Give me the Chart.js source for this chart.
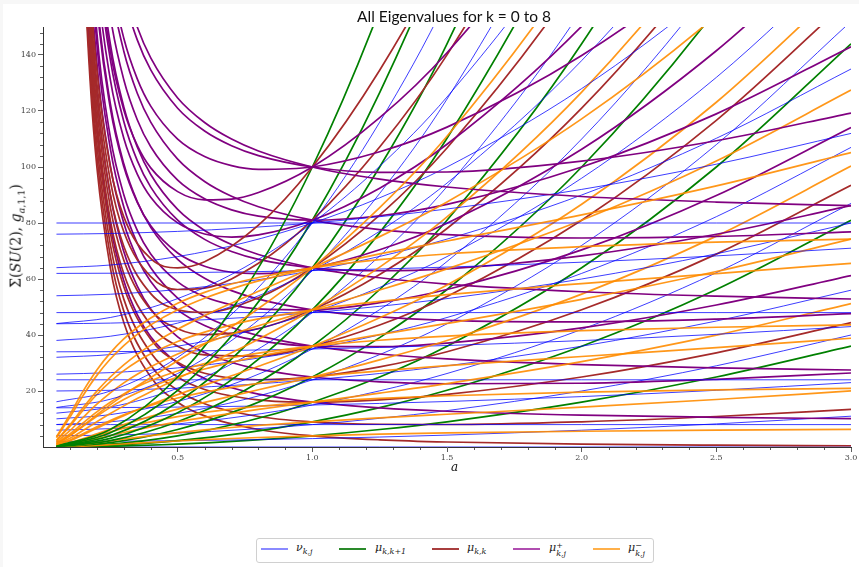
<!DOCTYPE html>
<html>
<head>
<meta charset="utf-8">
<script src="https://cdn.jsdelivr.net/npm/chart.js@4/dist/chart.umd.min.js"></script>
<style>
    html, body { margin: 0; padding: 0; background: #f7f7f7; }
    #wrap { position: relative; width: 859px; height: 567px; overflow: hidden; }
    #paper { position: absolute; left: 3px; top: 4px; right: 0; bottom: 0; background: #fff; }
    #chart { position: absolute; left: 0; top: 0; }
    .txt { position: absolute; color: #111; white-space: nowrap; }
    #title { left: 454px; top: 7px; transform: translateX(-50%); font: 15.5px Lato, "DejaVu Sans", sans-serif; }
    #xlabel { left: 451px; top: 460px; font: italic 12px "DejaVu Serif", serif; }
    #ylabel { left: 17px; top: 236px; transform: translate(-50%, -50%) rotate(-90deg); font: 14px "DejaVu Serif", serif; }
    #ylabel sub { font-size: 9.5px; }
    .lab sub { font-size: 8px; }
    #legend { position: absolute; left: 256px; top: 538px; width: 396px; height: 23px; border: 1px solid #d0d0d0; border-radius: 3px; background: #fff; }
    .sw { position: absolute; top: 548px; width: 27px; height: 1.6px; }
    .lab { position: absolute; top: 541px; font: italic 11px "DejaVu Serif", serif; color: #222; }
    .ss { display: inline-block; vertical-align: -5px; font-size: 8px; line-height: 8px; }
    .ss span { display: block; }
</style>
</head>
<body>
<div id="wrap">
    <div id="paper"></div>
    <canvas id="chart" width="859" height="567"></canvas>
    <div class="txt" id="title">All Eigenvalues for k = 0 to 8</div>
    <div class="txt" id="xlabel">a</div>
    <div class="txt" id="ylabel">Σ(<i>SU</i>(2), <i>g</i><sub><i>a</i>,1,1</sub>)</div>
    <div id="legend"></div>
    <div class="sw" style="left:261px;background:#8a8aff"></div>
    <div class="lab" style="left:296px">ν<sub>k,j</sub></div>
    <div class="sw" style="left:339px;background:#2a8a2a"></div>
    <div class="lab" style="left:375px">μ<sub>k,k+1</sub></div>
    <div class="sw" style="left:432px;background:#a83e3e"></div>
    <div class="lab" style="left:467px">μ<sub>k,k</sub></div>
    <div class="sw" style="left:513px;background:#b04db0"></div>
    <div class="lab" style="left:549px">μ<span class="ss"><span>+</span><span>k,j</span></span></div>
    <div class="sw" style="left:593px;background:#ffb04a"></div>
    <div class="lab" style="left:628px">μ<span class="ss"><span>−</span><span>k,j</span></span></div>
</div>
<script>
// sample points along a for each family
const aNu = [0.05, 0.25, 0.5, 0.75, 1, 1.25, 1.5, 2, 2.5, 3];
const aRed = [0.1, 0.125, 0.15, 0.175, 0.2, 0.25, 0.3, 0.4, 0.5, 0.6, 0.8, 1, 1.25, 1.5, 2, 2.5, 3];
const aPM = [0.05, 0.1, 0.15, 0.2, 0.25, 0.3, 0.35, 0.4, 0.5, 0.6, 0.7, 0.8, 1, 1.25, 1.5, 2, 2.5, 3];

// tick labels
const xMajorTicks = [0.5, 1, 1.5, 2, 2.5, 3];
const yMajorTicks = [20, 40, 60, 80, 100, 120, 140];

// which k each row belongs to
const nuK = [0, 1, 2, 2, 3, 3, 4, 4, 4, 5, 5, 5, 6, 6, 6, 6, 7, 7, 7, 7, 8, 8, 8, 8, 8];
const pmK = [2, 3, 4, 4, 5, 5, 6, 6, 6, 7, 7, 7, 8, 8, 8, 8];

// nu_{k,j}  (on aNu)
const nuSeries = [
    [0, 0, 0, 0, 0, 0, 0, 0, 0, 0],
    [2.00, 2.06, 2.25, 2.56, 3, 3.56, 4.25, 6, 8.25, 11],
    [8, 8, 8, 8, 8, 8, 8, 8, 8, 8],
    [4.01, 4.25, 5, 6.25, 8, 10.25, 13, 20, 29, 40],
    [14.00, 14.06, 14.25, 14.56, 15, 15.56, 16.25, 18, 20.25, 23],
    [6.02, 6.56, 8.25, 11.06, 15, 20.06, 26.25, 42, 62.25, 87],
    [24, 24, 24, 24, 24, 24, 24, 24, 24, 24],
    [20.01, 20.25, 21, 22.25, 24, 26.25, 29, 36, 45, 56],
    [8.04, 9, 12, 17, 24, 33, 44, 72, 108, 152],
    [34.00, 34.06, 34.25, 34.56, 35, 35.56, 36.25, 38, 40.25, 43],
    [26.02, 26.56, 28.25, 31.06, 35, 40.06, 46.25, 62, 82.25, 107],
    [10.06, 11.56, 16.25, 24.06, 35, 49.06, 66.25, 110, 166.25, 235],
    [48, 48, 48, 48, 48, 48, 48, 48, 48, 48],
    [44.01, 44.25, 45, 46.25, 48, 50.25, 53, 60, 69, 80],
    [32.04, 33, 36, 41, 48, 57, 68, 96, 132, 176],
    [12.09, 14.25, 21, 32.25, 48, 68.25, 93, 156, 237, 336],
    [62.00, 62.06, 62.25, 62.56, 63, 63.56, 64.25, 66, 68.25, 71],
    [54.02, 54.56, 56.25, 59.06, 63, 68.06, 74.25, 90, 110.25, 135],
    [38.06, 39.56, 44.25, 52.06, 63, 77.06, 94.25, 138, 194.25, 263],
    [14.12, 17.06, 26.25, 41.56, 63, 90.56, 124.25, 210, 320.25, 455],
    [80, 80, 80, 80, 80, 80, 80, 80, 80, 80],
    [76.01, 76.25, 77, 78.25, 80, 82.25, 85, 92, 101, 112],
    [64.04, 65, 68, 73, 80, 89, 100, 128, 164, 208],
    [44.09, 46.25, 53, 64.25, 80, 100.25, 125, 188, 269, 368],
    [16.16, 20, 32, 52, 80, 116, 160, 272, 416, 592]
];

// mu_{k,k+1}, k = 0..8  (on aNu)
const muNextSeries = [
    [0.01, 0.25, 1, 2.25, 4, 6.25, 9, 16, 25, 36],
    [0.02, 0.56, 2.25, 5.06, 9, 14.06, 20.25, 36, 56.25, 81],
    [0.04, 1, 4, 9, 16, 25, 36, 64, 100, 144],
    [0.06, 1.56, 6.25, 14.06, 25, 39.06, 56.25, 100, 156.25, 225],
    [0.09, 2.25, 9, 20.25, 36, 56.25, 81, 144, 225, 324],
    [0.12, 3.06, 12.25, 27.56, 49, 76.56, 110.25, 196, 306.25, 441],
    [0.16, 4, 16, 36, 64, 100, 144, 256, 400, 576],
    [0.2, 5.06, 20.25, 45.56, 81, 126.56, 182.25, 324, 506.25, 729],
    [0.25, 6.25, 25, 56.25, 100, 156.25, 225, 400, 625, 900]
];

// mu_{k,k}, k = 0..8  (on aRed)
const muSameSeries = [
    [400, 256, 177.78, 130.61, 100, 64, 44.44, 25, 16, 11.11, 6.25, 4, 2.56, 1.78, 1, 0.64, 0.44],
    [404.01, 260.02, 181.80, 134.64, 104.04, 68.06, 48.53, 29.16, 20.25, 15.47, 10.89, 9, 8.12, 8.03, 9, 10.89, 13.44],
    [408.04, 264.06, 185.87, 138.74, 108.16, 72.25, 52.81, 33.64, 25, 20.55, 16.81, 16, 16.81, 18.78, 25, 33.64, 44.44],
    [412.09, 268.14, 189.98, 142.89, 112.36, 76.56, 57.25, 38.44, 30.25, 26.35, 24.01, 25, 28.62, 34.03, 49, 68.89, 93.44],
    [416.16, 272.25, 194.14, 147.10, 116.64, 81, 61.88, 43.56, 36, 32.87, 32.49, 36, 43.56, 53.78, 81, 116.64, 160.44],
    [420.25, 276.39, 198.34, 151.38, 121, 85.56, 66.69, 49, 42.25, 40.11, 42.25, 49, 61.62, 78.03, 121, 176.89, 245.44],
    [424.36, 280.56, 202.59, 155.72, 125.44, 90.25, 71.68, 54.76, 49, 48.07, 53.29, 64, 82.81, 106.78, 169, 249.64, 348.44],
    [428.49, 284.77, 206.88, 160.11, 129.96, 95.06, 76.85, 60.84, 56.25, 56.75, 65.61, 81, 107.12, 140.03, 225, 334.89, 469.44],
    [432.64, 289, 211.22, 164.57, 134.56, 100, 82.2, 67.24, 64, 66.15, 79.21, 100, 134.56, 177.78, 289, 432.64, 608.44]
];

// mu^+_{k,j}  (on aPM)
const muPlusSeries = [
    [1616, 415.9, 193.45, 115.45, 79.19, 59.37, 47.30, 39.37, 29.86, 24.50, 21.14, 18.86, 16, 13.98, 12.76, 11.37, 10.61, 10.12],
    [1628, 427.6, 204.86, 126.52, 89.93, 69.78, 57.43, 49.25, 39.34, 33.72, 30.19, 27.83, 25, 23.28, 22.59, 22.77, 24.18, 26.43],
    [1648, 446.7, 223.2, 144, 106.6, 85.73, 72.73, 64, 53.17, 46.80, 42.66, 39.77, 36, 33.22, 31.48, 29.42, 28.25, 27.50],
    [1640, 439.2, 216.09, 137.36, 100.42, 79.98, 67.41, 59.07, 49, 43.40, 40.04, 37.96, 36, 35.83, 37.12, 42.52, 50.70, 61.22],
    [1667, 465.5, 241.02, 160.88, 122.67, 101.13, 87.61, 78.45, 66.99, 60.23, 55.84, 52.81, 49, 46.47, 45.22, 44.68, 45.66, 47.60],
    [1652, 450.7, 227.16, 148.03, 110.75, 90.09, 77.36, 68.96, 58.97, 53.66, 50.77, 49.32, 49, 51.55, 56.25, 70.39, 89.83, 114.12],
    [1695, 491.3, 265.09, 183.44, 144, 121.48, 107.15, 97.33, 84.84, 77.31, 72.29, 68.73, 64, 60.44, 58.17, 55.45, 53.87, 52.85],
    [1687, 484.1, 258.44, 177.32, 138.35, 116.23, 102.28, 92.81, 81, 74.15, 69.84, 67.03, 64, 62.94, 63.64, 68.26, 75.97, 86.19],
    [1664, 462.1, 238.1, 158.56, 121, 100.16, 87.37, 79.0, 69.3, 64.54, 62.41, 61.91, 64, 70.43, 79.92, 106.31, 141.52, 185.07],
    [1722, 516.6, 288.49, 205.34, 164.74, 141.35, 126.36, 116.02, 102.81, 94.82, 89.52, 85.80, 81, 77.66, 75.86, 74.64, 75.19, 76.84],
    [1706, 502.4, 275.52, 193.44, 153.76, 131.16, 116.88, 107.21, 95.3, 88.62, 84.70, 82.46, 81, 82.60, 86.66, 100, 118.98, 142.97],
    [1675, 473.4, 248.93, 169, 131.19, 110.25, 97.48, 89.23, 80.03, 76.07, 74.99, 75.76, 81, 92.45, 108.11, 150.26, 205.72, 274.03],
    [1756, 548.3, 317.63, 232.47, 190.38, 165.86, 149.98, 138.94, 124.66, 115.88, 109.96, 105.70, 100, 95.65, 92.85, 89.46, 87.48, 86.19],
    [1749, 541.4, 311.36, 226.74, 185.09, 160.93, 145.40, 134.66, 121, 112.85, 107.60, 104.06, 100, 98.10, 98.21, 102.1, 109.37, 119.28],
    [1726, 520.4, 292.33, 209.32, 169, 145.99, 131.49, 121.73, 109.94, 103.71, 100.48, 99.13, 100, 105.43, 114.25, 139.82, 174.57, 217.84],
    [1687, 484.7, 259.67, 179.37, 141.37, 120.39, 107.72, 99.68, 91.2, 88.28, 88.52, 90.87, 100, 117.60, 140.82, 202.22, 282.45, 381.01]
];

// mu^-_{k,j}  (on aPM)
const muMinusSeries = [
    [0.04, 0.15, 0.33, 0.55, 0.81, 1.08, 1.35, 1.63, 2.14, 2.61, 3.03, 3.39, 4, 4.58, 5.02, 5.63, 6.03, 6.32],
    [0.12, 0.46, 0.96, 1.56, 2.20, 2.85, 3.47, 4.07, 5.16, 6.12, 6.96, 7.70, 9, 10.40, 11.69, 14.23, 16.96, 20.02],
    [0.35, 1.29, 2.58, 4, 5.40, 6.72, 7.92, 9, 10.83, 12.31, 13.50, 14.48, 16, 17.34, 18.30, 19.58, 20.39, 20.95],
    [0.24, 0.91, 1.87, 2.96, 4.08, 5.18, 6.23, 7.21, 9, 10.59, 12.04, 13.41, 16, 19.23, 22.66, 30.48, 39.94, 51.23],
    [0.69, 2.49, 4.80, 7.20, 9.46, 11.49, 13.29, 14.87, 17.51, 19.60, 21.30, 22.72, 25, 27.21, 29.06, 32.32, 35.48, 38.84],
    [0.41, 1.51, 3.02, 4.69, 6.37, 7.98, 9.50, 10.92, 13.53, 15.93, 18.21, 20.45, 25, 31.14, 38.03, 54.61, 75.31, 100.32],
    [1.36, 4.69, 8.69, 12.56, 16, 18.97, 21.50, 23.67, 27.16, 29.80, 31.87, 33.52, 36, 38.12, 39.61, 41.55, 42.77, 43.60],
    [1.15, 4.01, 7.52, 11.00, 14.15, 16.93, 19.35, 21.47, 25, 27.85, 30.24, 32.34, 36, 40.12, 44.14, 52.74, 62.67, 74.26],
    [0.62, 2.24, 4.40, 6.72, 9, 11.16, 13.20, 15.12, 18.70, 22.09, 25.43, 28.82, 36, 46.13, 57.86, 86.69, 123.12, 167.38],
    [2.23, 7.44, 13.33, 18.74, 23.38, 27.27, 30.54, 33.30, 37.69, 41.01, 43.62, 45.73, 49, 52.02, 54.42, 58.36, 61.95, 65.60],
    [1.71, 5.82, 10.66, 15.28, 19.36, 22.90, 25.98, 28.67, 33.20, 36.97, 40.28, 43.31, 49, 56.08, 63.62, 81, 102.16, 127.47],
    [0.87, 3.09, 5.97, 9, 11.93, 14.69, 17.30, 19.77, 24.47, 29.04, 33.67, 38.49, 49, 64.24, 82.17, 126.74, 183.42, 252.41],
    [3.64, 11.67, 20.15, 27.53, 33.62, 38.59, 42.67, 46.06, 51.34, 55.23, 58.20, 60.55, 64, 66.91, 68.93, 71.54, 73.16, 74.26],
    [3.30, 10.68, 18.60, 25.58, 31.41, 36.23, 40.24, 43.62, 49, 53.14, 56.48, 59.31, 64, 68.96, 73.57, 82.90, 93.27, 105.16],
    [2.38, 7.91, 14.17, 19.96, 25, 29.33, 33.09, 36.39, 42.06, 46.92, 51.36, 55.60, 64, 75.13, 87.53, 117.18, 154.07, 198.6],
    [1.15, 4.06, 7.73, 11.51, 15.13, 18.54, 21.76, 24.84, 30.80, 36.75, 42.92, 49.46, 64, 85.46, 110.96, 174.78, 256.19, 355.43]
];

const NU_COLOR = 'rgba(0, 0, 255, 0.85)';
const NEXT_COLOR = '#008000';
const SAME_COLOR = '#a52a2a';
const PLUS_COLOR = '#800080';
const MINUS_COLOR = 'rgba(255, 140, 0, 0.9)';

function curve(grid, row, color, width) {
    return {
        data: grid.map((a, i) => ({ x: a, y: row[i] })),
        borderColor: color,
        borderWidth: width,
        pointRadius: 0,
        fill: false,
        cubicInterpolationMode: 'monotone'
    };
}

// plot k by k, each family in turn
const ordered = [];
for (let k = 0; k <= 8; k++) {
    nuSeries.forEach((row, i) => { if (nuK[i] === k) ordered.push(curve(aNu, row, NU_COLOR, 0.9)); });
    ordered.push(curve(aNu, muNextSeries[k], NEXT_COLOR, 1.7));
    ordered.push(curve(aRed, muSameSeries[k], SAME_COLOR, 1.7));
    muPlusSeries.forEach((row, i) => { if (pmK[i] === k) ordered.push(curve(aPM, row, PLUS_COLOR, 1.7)); });
    muMinusSeries.forEach((row, i) => { if (pmK[i] === k) ordered.push(curve(aPM, row, MINUS_COLOR, 1.7)); });
}
// Chart.js paints dataset 0 last, so flip to keep later curves on top
const datasets = ordered.reverse();

// small ticks between the labelled ones
const minorTicks = {
    id: 'minorTicks',
    afterDraw(chart) {
        const { ctx, chartArea, scales } = chart;
        ctx.save();
        ctx.strokeStyle = '#333';
        ctx.lineWidth = 0.8;
        ctx.beginPath();
        for (let i = 1; i < 30; i++) {
            if (i % 5 === 0) continue;
            const px = Math.round(scales.x.getPixelForValue(i / 10)) + 0.5;
            ctx.moveTo(px, chartArea.bottom);
            ctx.lineTo(px, chartArea.bottom + 3);
        }
        for (let v = 4; v < 150; v += 4) {
            if (v % 20 === 0) continue;
            const py = Math.round(scales.y.getPixelForValue(v)) + 0.5;
            ctx.moveTo(chartArea.left, py);
            ctx.lineTo(chartArea.left - 3, py);
        }
        ctx.stroke();
        ctx.restore();
    }
};

const tickFont = { family: '"DejaVu Serif", serif', size: 8 };

new Chart(document.getElementById('chart'), {
    type: 'line',
    data: { datasets: datasets },
    options: {
        responsive: false,
        animation: false,
        events: [],
        layout: { padding: { top: 27, right: 8, left: 0, bottom: 0 } },
        plugins: {
            legend: { display: false },
            tooltip: { enabled: false },
            title: { display: false }
        },
        scales: {
            x: {
                type: 'linear',
                min: 0,
                max: 3,
                afterBuildTicks: scale => { scale.ticks = xMajorTicks.map(v => ({ value: v })); },
                afterFit: scale => { scale.height = 120; },
                ticks: {
                    font: tickFont,
                    color: '#444',
                    padding: 1,
                    maxRotation: 0,
                    callback: v => Number(v).toFixed(1)
                },
                grid: { drawOnChartArea: false, drawTicks: true, tickLength: 5, color: '#333', tickWidth: 0.8 },
                border: { display: true, color: '#333', width: 1 }
            },
            y: {
                type: 'linear',
                min: 0,
                max: 150,
                afterBuildTicks: scale => { scale.ticks = yMajorTicks.map(v => ({ value: v })); },
                afterFit: scale => { scale.width = 43; },
                ticks: {
                    font: tickFont,
                    color: '#444',
                    padding: 2,
                    callback: v => String(v)
                },
                grid: { drawOnChartArea: false, drawTicks: true, tickLength: 5, color: '#333', tickWidth: 0.8 },
                border: { display: true, color: '#333', width: 1 }
            }
        }
    },
    plugins: [minorTicks]
});
</script>
</body>
</html>
